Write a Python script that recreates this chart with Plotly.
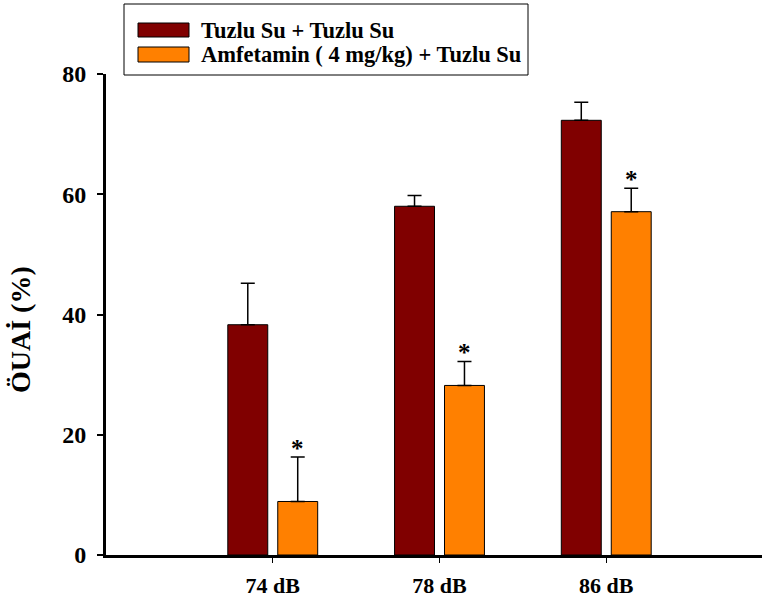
import plotly.graph_objects as go

# ---- data ----
categories = ["74 dB", "78 dB", "86 dB"]
series_names = ["Tuzlu Su + Tuzlu Su", "Amfetamin ( 4 mg/kg) + Tuzlu Su"]
saline_mean = [38.3, 58.0, 72.3]
saline_err = [6.9, 1.8, 3.0]
amph_mean = [8.9, 28.2, 57.1]
amph_err = [7.4, 4.0, 3.9]
sig_marks = ["*", "*", "*"]
y_ticks = [0, 20, 40, 60, 80]
y_title = "ÖUAİ (%)"

colors = ["#800000", "#FF8000"]
FONT = "Liberation Serif, Times New Roman, serif"

W, H = 762, 598
L, T = 106, 74
PW, PH = W - L, 481


def px(x):
    return (x - L) / PW


def py(y):
    return (T + PH - y) / PH


fig = go.Figure()
for name, mean, err, col in [(series_names[0], saline_mean, saline_err, colors[0]),
                             (series_names[1], amph_mean, amph_err, colors[1])]:
    fig.add_trace(go.Bar(
        x=categories, y=mean, name=name,
        marker=dict(color=col, line=dict(color="black", width=1)),
        error_y=dict(type="data", array=err, arrayminus=[0] * len(err),
                     symmetric=False, color="black", thickness=1.5, width=7),
        showlegend=False,
    ))

# significance asterisks above the amphetamine bars
for cat, m, e, s in zip(categories, amph_mean, amph_err, sig_marks):
    fig.add_annotation(x=cat, y=m + e, xref="x", yref="y", text=s,
                       showarrow=False, xshift=25, yanchor="bottom", yshift=-7,
                       font=dict(family=FONT, size=25, color="black", weight="bold"))

# custom legend box
fig.add_shape(type="rect", xref="paper", yref="paper",
              x0=px(124), x1=px(528), y0=py(75), y1=py(4),
              line=dict(color="black", width=1), fillcolor="white", layer="above")
sw = [(23, 37), (47, 62)]
for (ya, yb), name, col in zip(sw, series_names, colors):
    fig.add_shape(type="rect", xref="paper", yref="paper",
                  x0=px(138), x1=px(189), y0=py(yb), y1=py(ya),
                  line=dict(color="black", width=1), fillcolor=col, layer="above")
    fig.add_annotation(xref="paper", yref="paper", x=px(199), y=py((ya + yb) / 2),
                       text=name, showarrow=False,
                       xanchor="left", yanchor="middle",
                       font=dict(family=FONT, size=22.5, color="black", weight="bold"))

# y-axis title
fig.add_annotation(xref="paper", yref="paper", x=px(20), y=py(330),
                   text=y_title, textangle=-90, showarrow=False,
                   xanchor="center", yanchor="middle",
                   font=dict(family=FONT, size=28, color="black", weight="bold"))

fig.update_layout(
    width=W, height=H,
    margin=dict(l=L, r=0, t=T, b=H - T - PH, pad=0),
    plot_bgcolor="white", paper_bgcolor="white",
    barmode="group", bargap=0.401, bargroupgap=0.2,
    font=dict(family=FONT, color="black"),
    xaxis=dict(type="category", categoryorder="array", categoryarray=categories,
               range=[-1, 2.934], showline=True, linecolor="black", linewidth=3,
               ticks="outside", ticklen=5, tickwidth=1, tickcolor="black",
               ticklabelstandoff=4, automargin=False,
               tickfont=dict(family=FONT, size=22, color="black", weight="bold"),
               showgrid=False, zeroline=False, fixedrange=True),
    yaxis=dict(range=[0, 80], tickvals=y_ticks, showline=True, linecolor="black",
               linewidth=3, ticks="outside", ticklen=6, tickwidth=2, tickcolor="black",
               ticklabelstandoff=6, automargin=False,
               tickfont=dict(family=FONT, size=24, color="black", weight="bold"),
               showgrid=False, zeroline=False, fixedrange=True),
)

# remove the default page margin so the figure fills the window exactly
fig.write_html("out.html",
               config={"displayModeBar": False, "staticPlot": True},
               post_script="document.body.style.margin='0';document.body.style.overflow='hidden';")
